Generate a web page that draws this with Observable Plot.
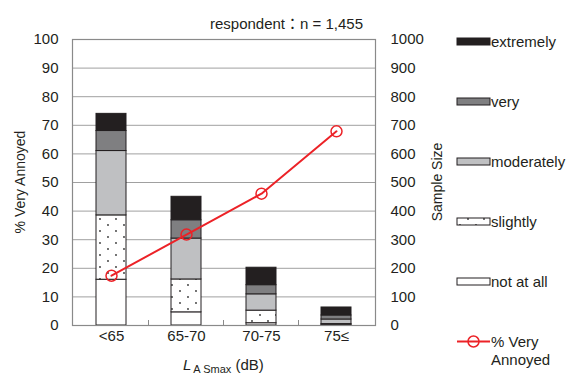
<!DOCTYPE html>
<html><head><meta charset="utf-8">
<script src="https://cdn.jsdelivr.net/npm/d3@7"></script>
<script src="https://cdn.jsdelivr.net/npm/@observablehq/plot@0.6"></script>
<style>body{margin:0;background:#fff}#chart{width:571px;height:376px}</style>
</head><body><div id="chart"></div>
<script>
// ---- data (sample sizes per annoyance level, bottom to top) ----
const categories = ["<65", "65-70", "70-75", "75≤"];
const levels = ["not at all", "slightly", "moderately", "very", "extremely"];
const notAtAll   = [160, 46, 8, 2];
const slightly   = [225, 115, 44, 3];
const moderately = [225, 143, 57, 16];
const very       = [70, 64, 32, 14];
const extremely  = [60, 82, 61, 28];
const pctVeryAnnoyed = [17.4, 31.8, 46.1, 67.9];
const leftTicks  = [0, 10, 20, 30, 40, 50, 60, 70, 80, 90, 100];
const rightTicks = [0, 100, 200, 300, 400, 500, 600, 700, 800, 900, 1000];
const legendOrder = ["extremely", "very", "moderately", "slightly", "not at all"];
const lineLabel = ["% Very", "Annoyed"];
const topNote = "respondent：n = 1,455";

// styles
const levelColors = ["#ffffff", "url(#dots)", "#bfc0c2", "#7f7f81", "#231f20"];
const red = "#ec2227";
const ink = "#231f20";
const font = "'Liberation Sans', Arial, 'Noto Sans CJK JP', sans-serif";

const counts = [notAtAll, slightly, moderately, very, extremely];
const rows = categories.flatMap((c, i) => levels.map((l, j) => ({cat: c, level: l, n: counts[j][i]})));
const lineRows = categories.map((c, i) => ({cat: c, pct: pctVeryAnnoyed[i]}));
const rightScale = rightTicks[rightTicks.length - 1] / leftTicks[leftTicks.length - 1];

const svg = Plot.plot({
  width: 571, height: 376,
  marginLeft: 72, marginRight: 196, marginTop: 39, marginBottom: 51,
  style: {fontFamily: font, fontSize: "15px", color: ink, background: "#fff"},
  x: {domain: categories, paddingInner: 0.6, paddingOuter: 0.3},
  y: {domain: [0, 100]},
  color: {type: "ordinal", domain: levels, range: levelColors},
  marks: [
    Plot.gridY({ticks: leftTicks, stroke: "#a0a0a0", strokeOpacity: 1, strokeWidth: 1}),
    Plot.barY(rows, {x: "cat", y: d => d.n / rightScale, fill: "level", order: levels, stroke: ink, strokeWidth: 1}),
    Plot.frame({stroke: "#8a8a8a", strokeWidth: 1.2}),
    Plot.line(lineRows, {x: "cat", y: "pct", stroke: red, strokeWidth: 2}),
    Plot.dot(lineRows, {x: "cat", y: "pct", r: 5.5, stroke: red, strokeWidth: 1.5, fill: "none"}),
    Plot.axisY({anchor: "left", ticks: leftTicks, tickSize: 0, tickPadding: 14, label: null, fontSize: 15}),
    Plot.axisY({anchor: "right", ticks: rightTicks.map(v => v / rightScale), tickFormat: d => String(Math.round(d * rightScale)), tickSize: 0, tickPadding: 15, label: null, fontSize: 15}),
    Plot.axisX({tickSize: 0, tickPadding: 5, label: null, fontSize: 15})
  ]
});
document.getElementById("chart").appendChild(svg);

const root = d3.select(svg);
const sx = svg.scale("x"), sy = svg.scale("y");

// dot pattern for "slightly"
const defs = root.insert("defs", ":first-child");
const pat = defs.append("pattern").attr("id", "dots").attr("patternUnits", "userSpaceOnUse")
  .attr("width", 16).attr("height", 12);
pat.append("rect").attr("width", 16).attr("height", 12).attr("fill", "#fff");
pat.append("circle").attr("cx", 4).attr("cy", 3).attr("r", 0.9).attr("fill", "#333");
pat.append("circle").attr("cx", 12).attr("cy", 9).attr("r", 0.9).attr("fill", "#333");

// small category-boundary ticks on the bottom edge
const y0 = sy.apply(0);
categories.slice(0, -1).forEach(c => {
  const bx = sx.apply(c) + sx.bandwidth + (sx.step - sx.bandwidth) / 2;
  root.append("line").attr("x1", bx).attr("x2", bx).attr("y1", y0).attr("y2", y0 - 5)
    .attr("stroke", "#8a8a8a").attr("stroke-width", 1);
});

const txt = (x, y) => root.append("text").attr("x", x).attr("y", y)
  .attr("text-anchor", "start")
  .attr("font-family", font).attr("font-size", 15).attr("fill", ink);

// axis titles
txt(0, 0).attr("transform", "translate(25,182) rotate(-90)").attr("text-anchor", "middle")
  .attr("font-size", 14).text("% Very Annoyed");
txt(0, 0).attr("transform", "translate(442,182) rotate(-90)").attr("text-anchor", "middle")
  .attr("font-size", 14).text("Sample Size");
const xl = txt(183, 370);
xl.append("tspan").attr("font-style", "italic").text("L");
xl.append("tspan").attr("font-size", 11).attr("dy", 3).attr("dx", 2).text("A Smax");
xl.append("tspan").attr("dy", -3).text(" (dB)");

// top note
txt(363, 29).attr("text-anchor", "end").text(topNote);

// legend
const lg = root.append("g");
legendOrder.forEach((name, i) => {
  const cy = 41.5 + i * 60;
  lg.append("rect").attr("x", 457).attr("y", cy - 3.5).attr("width", 33).attr("height", 7)
    .attr("fill", levelColors[levels.indexOf(name)]).attr("stroke", ink).attr("stroke-width", 1);
  txt(491, cy).attr("dy", "0.35em").text(name);
});
const ly = 41.5 + 5 * 60;
lg.append("line").attr("x1", 457).attr("x2", 490).attr("y1", ly).attr("y2", ly).attr("stroke", red).attr("stroke-width", 2);
lg.append("circle").attr("cx", 473.5).attr("cy", ly).attr("r", 5.5).attr("fill", "none").attr("stroke", red).attr("stroke-width", 1.5);
txt(491, ly).attr("dy", "0.35em").text(lineLabel[0]);
txt(491, ly + 18).attr("dy", "0.35em").text(lineLabel[1]);
</script></body></html>
